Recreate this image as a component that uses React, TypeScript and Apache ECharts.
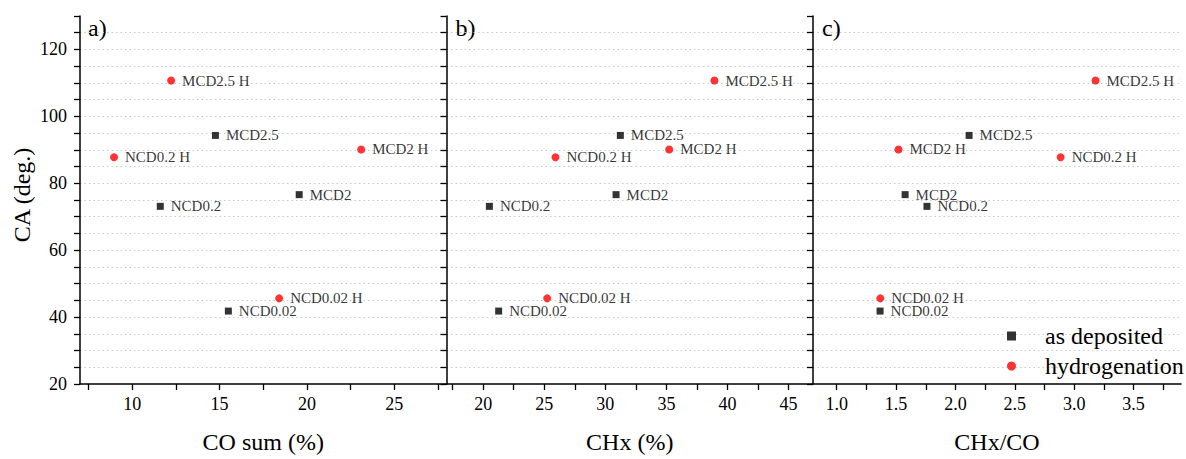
import React, { useEffect, useRef } from "react";
import * as echarts from "echarts";

// ---- data ----
const depositedNames = ["NCD0.02", "NCD0.2", "MCD2", "MCD2.5"];
const depositedCA = [41.8, 73.1, 76.6, 94.3];
const depositedCOsum = [15.5, 11.6, 19.56, 14.76];
const depositedCHx = [21.27, 20.51, 30.88, 31.23];
const depositedRatio = [1.365, 1.76, 1.576, 2.115];

const hydroNames = ["NCD0.02 H", "NCD0.2 H", "MCD2 H", "MCD2.5 H"];
const hydroCA = [45.6, 87.8, 90.1, 110.7];
const hydroCOsum = [18.41, 8.95, 23.11, 12.22];
const hydroCHx = [25.24, 25.92, 35.23, 38.93];
const hydroRatio = [1.367, 2.886, 1.52, 3.18];

const panelLetters = ["a)", "b)", "c)"];
const xTitles = ["CO sum (%)", "CHx (%)", "CHx/CO"];
const yTitle = "CA (deg.)";
const legendNames = ["as deposited", "hydrogenation"];

const xMins = [7, 17, 0.8];
const xMaxs = [28, 47, 3.9];
const xLabelValues = [
  [10, 15, 20, 25],
  [20, 25, 30, 35, 40, 45],
  [1.0, 1.5, 2.0, 2.5, 3.0, 3.5],
];
const xTickValues = [
  [7.5, 10, 12.5, 15, 17.5, 20, 22.5, 25, 27.5],
  [17.5, 20, 22.5, 25, 27.5, 30, 32.5, 35, 37.5, 40, 42.5, 45],
  [1.0, 1.25, 1.5, 1.75, 2.0, 2.25, 2.5, 2.75, 3.0, 3.25, 3.5, 3.75],
];
const xDecimals = [0, 0, 1];
const yLabelValues = [20, 40, 60, 80, 100, 120];
const yTickValues = [20, 25, 30, 35, 40, 45, 50, 55, 60, 65, 70, 75, 80, 85, 90, 95, 100, 105, 110, 115, 120, 125, 130];

const FONT = "Liberation Serif, Times New Roman, serif";

export default function App() {
  const ref = useRef<HTMLDivElement>(null);

  useEffect(() => {
    document.body.style.margin = "0";
    if (!ref.current) return;
    const chart = echarts.init(ref.current, null, { renderer: "svg" });

    const gridLefts = [80, 446.5, 813];
    const gridWidths = [366.5, 366.5, 368];
    const top = 16;
    const height = 373;

    const xSets = [
      [depositedCOsum, hydroCOsum],
      [depositedCHx, hydroCHx],
      [depositedRatio, hydroRatio],
    ];

    const grids = gridLefts.map((l, i) => ({
      left: l,
      top,
      width: gridWidths[i],
      height,
      containLabel: false,
    }));

    const xAxes = [0, 1, 2].map((i) => ({
      type: "value",
      gridIndex: i,
      min: xMins[i],
      max: xMaxs[i],
      interval: i === 2 ? 0.1 : 1,
      name: xTitles[i],
      nameLocation: "middle",
      nameGap: 46,
      nameTextStyle: { fontFamily: FONT, fontSize: 24, color: "#000" },
      axisLine: { show: true, onZero: false, lineStyle: { color: "#000", width: 1.5 } },
      axisTick: {
        show: true,
        inside: false,
        length: 6,
        customValues: xTickValues[i],
        lineStyle: { color: "#000", width: 1.3 },
      },
      axisLabel: {
        show: true,
        customValues: xLabelValues[i],
        margin: 11,
        fontFamily: FONT,
        fontSize: 18,
        color: "#000",
        formatter: (v: number) => v.toFixed(xDecimals[i]),
      },
      splitLine: { show: false },
    }));

    const yAxes = [0, 1, 2].map((i) => ({
      type: "value",
      gridIndex: i,
      min: 20,
      max: 130,
      interval: 10,
      name: i === 0 ? yTitle : "",
      nameLocation: "middle",
      nameGap: 46,
      nameTextStyle: { fontFamily: FONT, fontSize: 24, color: "#000", padding: [0, 0, 0, 10] },
      axisLine: { show: true, onZero: false, lineStyle: { color: "#000", width: 1.5 } },
      axisTick: {
        show: true,
        inside: false,
        length: 6,
        customValues: yTickValues,
        lineStyle: { color: "#000", width: 1.3 },
      },
      axisLabel: {
        show: i === 0,
        customValues: yLabelValues,
        margin: 13,
        fontFamily: FONT,
        fontSize: 18,
        color: "#000",
      },
      splitLine: {
        show: true,
        showMinLine: false,
        showMaxLine: false,
        lineStyle: { color: "#c8c8c8", type: [1.5, 3], width: 1 },
      },
    }));

    const labelCfg = {
      show: true,
      position: "right",
      distance: 7,
      formatter: "{b}",
      fontFamily: FONT,
      fontSize: 15,
      color: "#000",
    };

    const series: any[] = [];
    [0, 1, 2].forEach((i) => {
      series.push({
        type: "scatter",
        name: legendNames[0],
        xAxisIndex: i,
        yAxisIndex: i,
        symbol: "rect",
        symbolSize: 7,
        itemStyle: { color: "#000" },
        label: labelCfg,
        data: depositedNames.map((n, k) => ({ name: n, value: [xSets[i][0][k], depositedCA[k]] })),
      });
      series.push({
        type: "scatter",
        name: legendNames[1],
        xAxisIndex: i,
        yAxisIndex: i,
        symbol: "circle",
        symbolSize: 8,
        itemStyle: { color: "#ff0000" },
        label: labelCfg,
        data: hydroNames.map((n, k) => ({ name: n, value: [xSets[i][1][k], hydroCA[k]] })),
      });
    });

    const legendText = { fontFamily: FONT, fontSize: 24, color: "#000", padding: [0, 0, 0, 24] };

    chart.setOption({
      animation: false,
      backgroundColor: "#fff",
      textStyle: { fontFamily: FONT },
      grid: grids,
      xAxis: xAxes,
      yAxis: yAxes,
      series,
      legend: {
        show: true,
        orient: "vertical",
        left: 1002,
        top: 319,
        itemWidth: 9,
        itemHeight: 9,
        itemGap: 6,
        data: [
          { name: legendNames[0], icon: "rect", itemStyle: { color: "#000" }, textStyle: legendText },
          { name: legendNames[1], icon: "circle", itemStyle: { color: "#ff0000" }, textStyle: legendText },
        ],
        textStyle: legendText,
      },
      graphic: panelLetters.map((t, i) => ({
        type: "text",
        left: gridLefts[i] + (i === 0 ? 8 : 9),
        top: 16,
        style: { text: t, fontFamily: FONT, fontSize: 24, fill: "#000" },
      })),
    });

    return () => chart.dispose();
  }, []);

  return <div ref={ref} style={{ width: 1186, height: 459 }} />;
}
